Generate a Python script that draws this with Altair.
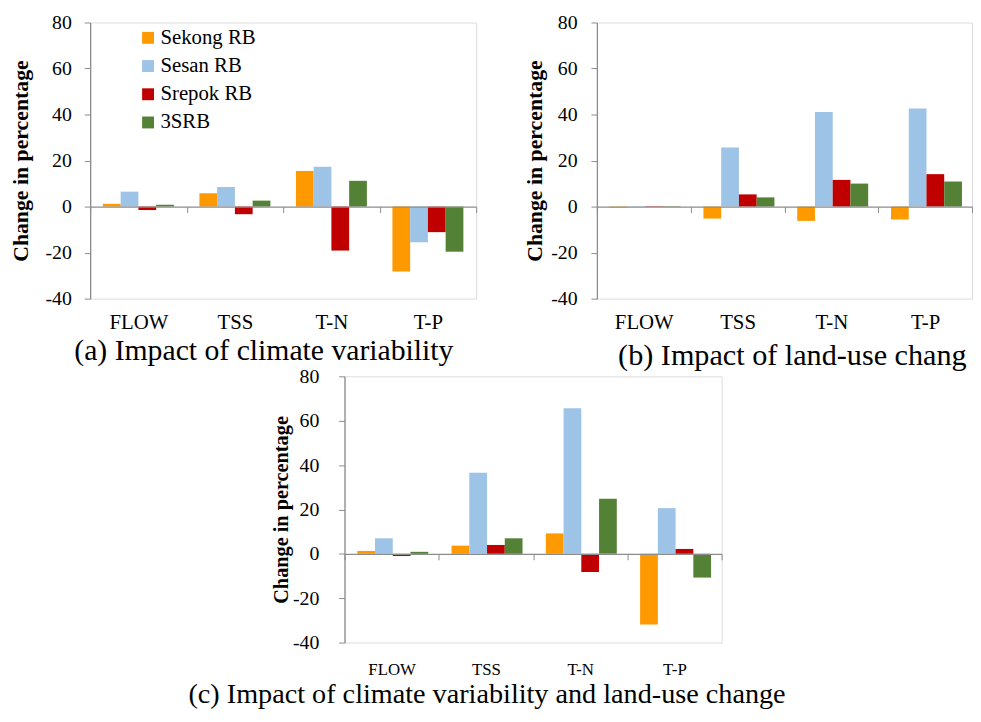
import altair as alt
import pandas as pd

categories = ["FLOW", "TSS", "T-N", "T-P"]
basins = ["Sekong RB", "Sesan RB", "Srepok RB", "3SRB"]
colors = ["#FF9900", "#9DC3E6", "#C00000", "#538135"]

# (a) Impact of climate variability
a_sekong = [1.2, 5.8, 15.5, -28.2]
a_sesan = [6.5, 8.5, 17.3, -15.5]
a_srepok = [-1.5, -3.3, -19.1, -11.1]
a_3srb = [0.8, 2.6, 11.2, -19.6]

# (b) Impact of land-use change
b_sekong = [-0.4, -5.2, -6.2, -5.6]
b_sesan = [0.2, 25.7, 41.1, 42.6]
b_srepok = [0.2, 5.3, 11.6, 14.1]
b_3srb = [0.2, 4.0, 10.0, 10.9]

# (c) Impact of climate variability and land-use change
c_sekong = [1.3, 3.7, 9.2, -31.9]
c_sesan = [7.0, 36.6, 65.6, 20.6]
c_srepok = [-1.0, 4.0, -8.2, 2.2]
c_3srb = [0.9, 7.0, 24.8, -10.7]

y_ticks = [-40, -20, 0, 20, 40, 60, 80]
FONT = "Liberation Serif"
GRAY = "#8c8c8c"


def build_df(series):
    rows = []
    for basin, vals in zip(basins, series):
        for cat, v in zip(categories, vals):
            rows.append({"cat": cat, "basin": basin, "val": v})
    return pd.DataFrame(rows)


def panel(series, width, height, xlab, ylab, ytitle, tpad, lpad, caption, cap_size,
          cap_dx, cap_offset, label_pad, legend):
    df = build_df(series)
    return alt.Chart(df).mark_bar().encode(
        x=alt.X("cat:N", sort=categories,
                scale=alt.Scale(paddingInner=0, paddingOuter=0),
                axis=alt.Axis(title=None, labelAngle=0, tickBand="extent",
                              offset=-height / 3, labelPadding=label_pad,
                              labelFont=FONT, labelFontSize=xlab, labelColor="black",
                              domainColor=GRAY, tickColor=GRAY, tickSize=6,
                              domainWidth=1.3, zindex=1)),
        xOffset=alt.XOffset("basin:N", sort=basins,
                            scale=alt.Scale(paddingOuter=0.72, paddingInner=0)),
        y=alt.Y("val:Q", scale=alt.Scale(domain=[-40, 80], nice=False),
                axis=alt.Axis(values=y_ticks, grid=False, title="Change in percentage",
                              titleFont=FONT, titleFontSize=ytitle, titleFontWeight="bold",
                              titleColor="black", titlePadding=tpad,
                              labelFont=FONT, labelFontSize=ylab, labelColor="black",
                              labelExpr="datum.value + ''",
                              labelPadding=lpad, domainColor=GRAY, tickColor=GRAY,
                              tickSize=6, domainWidth=1.3)),
        color=alt.Color("basin:N", sort=basins,
                        scale=alt.Scale(domain=basins, range=colors),
                        legend=legend),
    ).properties(
        width=width, height=height,
        title=alt.TitleParams(caption, orient="bottom", anchor="middle", frame="group",
                              font=FONT, fontSize=cap_size, fontWeight="normal",
                              color="black", dx=cap_dx, offset=cap_offset),
    )


leg = alt.Legend(orient="none", legendX=48, legendY=5, title=None,
                 symbolType="square", symbolSize=144, symbolStrokeWidth=0,
                 labelFont=FONT, labelFontSize=21, labelColor="black",
                 rowPadding=6.5, padding=0, labelOffset=2)

pa = panel([a_sekong, a_sesan, a_srepok, a_3srb], 390, 279, 21, 20, 22, 13, 13,
           "(a) Impact of climate variability", 30, -19.5, 3, 100.5, leg)
pb = panel([b_sekong, b_sesan, b_srepok, b_3srb], 379, 279, 21, 20, 22, 4, 14,
           "(b) Impact of land-use chang", 30.5, 8, 9, 100.5, None)
pc = panel([c_sekong, c_sesan, c_srepok, c_3srb], 381, 269, 17, 20, 20.5, 1, 20,
           "(c) Impact of climate variability and land-use change", 28.5, -46.5, 3, 102.5,
           None)

spacer = alt.Chart(pd.DataFrame({"v": [0]})).mark_point(opacity=0).properties(
    width=200, height=10)

row1 = alt.hconcat(pa, pb, spacing=122, bounds="flush").resolve_legend(color="independent")
row2 = alt.hconcat(spacer, pc, spacing=57, bounds="flush")

chart = alt.vconcat(row1, row2, spacing=357.5, bounds="flush").resolve_legend(
    color="independent"
).properties(
    padding={"left": 0, "top": 0, "right": 0, "bottom": 0}
).configure_view(stroke=None).configure(background="white", font=FONT).configure_legend(
    labelFont=FONT, labelFontSize=21, labelColor="black"
)

chart.save("out.html", embed_options={"renderer": "svg", "actions": False})
